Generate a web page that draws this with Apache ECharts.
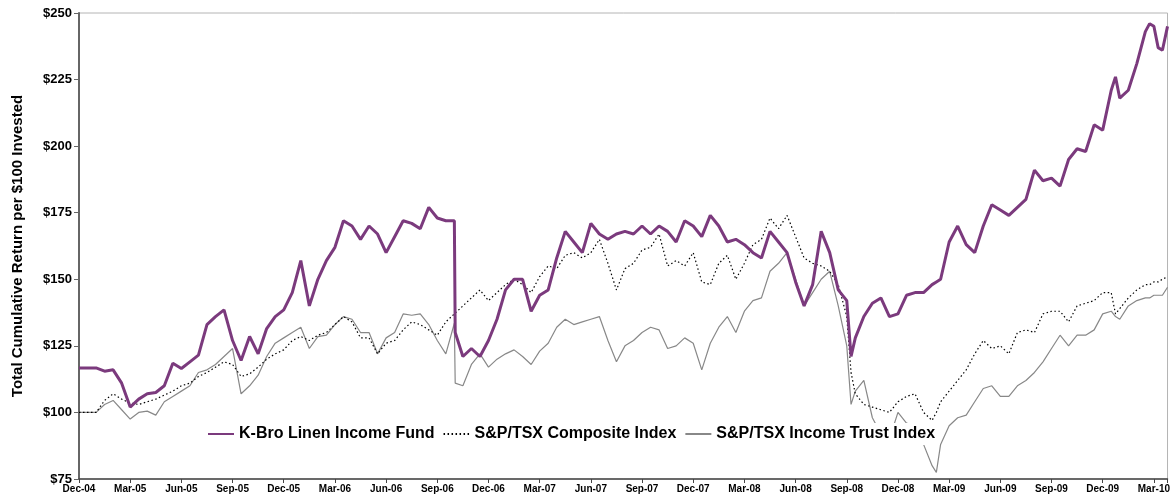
<!DOCTYPE html>
<html>
<head>
<meta charset="utf-8">
<script src="https://cdn.jsdelivr.net/npm/echarts@6/dist/echarts.min.js"></script>
<style>
html,body{margin:0;padding:0;background:#fff;}
#chart{width:1173px;height:497px;}
</style>
</head>
<body>
<div id="chart"></div>
<script>
// x positions in months after Dec-04 (month-end)
const months = [0,0.5,1,1.5,2,2.5,3,3.5,4,4.5,5,5.5,6,6.5,7,7.5,8,8.5,9,9.5,10,10.5,11,11.5,12,12.5,13,13.5,14,14.5,15,15.5,16,16.5,17,17.5,18,18.5,19,19.5,20,20.5,21,21.5,22,22.05,22.5,23,23.5,24,24.5,25,25.5,26,26.5,27,27.5,28,28.5,29,29.5,30,30.5,31,31.5,32,32.5,33,33.5,34,34.5,35,35.5,36,36.5,37,37.5,38,38.5,39,39.5,40,40.5,41,41.5,42,42.5,43,43.5,44,44.5,45,45.25,45.5,46,46.5,47,47.5,48,48.5,49,49.5,50,50.25,50.5,51,51.5,52,52.5,53,53.5,54,54.5,55,55.5,56,56.5,57,57.5,58,58.5,59,59.5,60,60.5,60.75,61,61.5,62,62.5,62.75,63,63.25,63.5,63.8];

const kbro = [116.7,116.7,116.7,115.5,116,111,102,105,107,107.5,110,118.5,116.5,119,121.5,133,136,138.5,127,119.5,128.5,122,131.5,136,138.5,145,157,140,150,157,162,172,170,165,170,167,160,166,172,171,169,177,173,172,172,130,121,124,121,127,135,146,150,150,138,144,146,158,168,164,160,171,167,165,167,168,167,170,167,170,168,164,172,170,166,174,170,164,165,163,160,158,168,164,160,149,140,148,168,160,146,142,121,128,136,141,143,136,137,144,145,145,148,149,150,164,170,163,160,170,178,176,174,177,180,191,187,188,185,195,199,198,208,206,221,226,218,221,231,243,246,245,237,236,245];

const composite = [100,100,100,104.5,107,105,103.5,103,104,105,106.5,108,110,111,113.5,115,117,119,118,113.5,114.5,117,120,122,123.5,127,128.5,127,129,130,133,136,134,128,128,122,126,127,131,134,133,131,129,134,137,137,140,143,146,142,145,148,150,148,145,151,155,154,159,160,158,160,165,156,146,154,156,161,162,167,155,157,155,160,149,148,156,159,150,156,163,165,173,169,174,166,158,156,155,153,148,136,115,107,103,102,101,100,104,106,107,100,97,100,104,108,112,116,122,127,124,125,122,130,131,130,137,138,138,134,140,141,142,145,145,137,139,143,146,148,148,149,149,150,151];

const incomeTrust = [100,100,100,103,104.5,101,97.5,100,100.5,99,104,106,108,110,115,116,118,121,124,107,110,114,121,126,128,130,132,124,128.5,129,133,136,135,130,130,122,128,130,137,136.5,137,133,127,122,133.5,111,110,118,122,117,120,122,123.5,121,118,123,126,132,135,133,134,135,136,127,119,125,127,130,132,131,124,125,128,126,116,126,132,136,130,138,142,143,153,156,160,150,140,145,150,153,140,125,103,108,112,98,92,90,100,96,95,88,80,77.5,88,95,98,99,104,109,110,106,106,110,112,115,119,124,129,125,129,129,131,137,138,136,135,140,142,143,143,144,144,144,147];

const tickLabels = ['Dec-04','Mar-05','Jun-05','Sep-05','Dec-05','Mar-06','Jun-06','Sep-06','Dec-06','Mar-07','Jun-07','Sep-07','Dec-07','Mar-08','Jun-08','Sep-08','Dec-08','Mar-09','Jun-09','Sep-09','Dec-09','Mar-10'];

const seriesNames = ['K-Bro Linen Income Fund','S&P/TSX Composite Index','S&P/TSX Income Trust Index'];

const FONT = '"Liberation Sans", Arial, sans-serif';
const pair = arr => months.map((m, i) => [m, arr[i]]);

const chart = echarts.init(document.getElementById('chart'), null, {renderer: 'canvas'});
chart.setOption({
  animation: false,
  backgroundColor: '#fff',
  grid: {left: 79, right: 3, top: 13, bottom: 18, show: true, borderColor: '#b4b4b4', borderWidth: 1},
  legend: {
    data: seriesNames,
    left: 203, top: 423,
    backgroundColor: '#fff',
    padding: [3, 4],
    itemGap: 8,
    itemWidth: 26, itemHeight: 10,
    itemStyle: {opacity: 0},
    textStyle: {fontFamily: FONT, fontWeight: 'bold', fontSize: 16, color: '#000'}
  },
  xAxis: {
    type: 'value', min: 0, max: 63.8, interval: 3,
    axisLine: {lineStyle: {color: '#444', width: 1.5}},
    axisTick: {show: true, length: 4, lineStyle: {color: '#444'}},
    splitLine: {show: false},
    axisLabel: {
      margin: 5, fontFamily: FONT, fontWeight: 'bold', fontSize: 10, color: '#000',
      formatter: v => (Math.abs(v / 3 - Math.round(v / 3)) < 1e-6 ? (tickLabels[Math.round(v / 3)] || '') : '')
    }
  },
  yAxis: {
    type: 'value', min: 75, max: 250, interval: 25,
    name: 'Total Cumulative Return per $100 Invested',
    nameLocation: 'middle', nameGap: 54,
    nameTextStyle: {fontFamily: FONT, fontWeight: 'bold', fontSize: 15, color: '#000'},
    axisLine: {show: true, lineStyle: {color: '#666', width: 2}},
    axisTick: {show: true, length: 5, lineStyle: {color: '#666'}},
    splitLine: {show: false},
    axisLabel: {margin: 7, fontFamily: FONT, fontWeight: 'bold', fontSize: 13, color: '#000', formatter: v => '$' + v}
  },
  series: [
    {name: seriesNames[0], type: 'line', data: pair(kbro), showSymbol: false, symbol: 'none', z: 4,
     lineStyle: {color: '#7B3A7D', width: 3}, itemStyle: {color: '#7B3A7D'}},
    {name: seriesNames[1], type: 'line', data: pair(composite), showSymbol: false, symbol: 'none', z: 3,
     lineStyle: {color: '#000', width: 1.2, type: [1.5, 2.5]}, itemStyle: {color: '#000'}},
    {name: seriesNames[2], type: 'line', data: pair(incomeTrust), showSymbol: false, symbol: 'none', z: 2,
     lineStyle: {color: '#888', width: 1.2}, itemStyle: {color: '#888'}}
  ]
});
</script>
</body>
</html>
